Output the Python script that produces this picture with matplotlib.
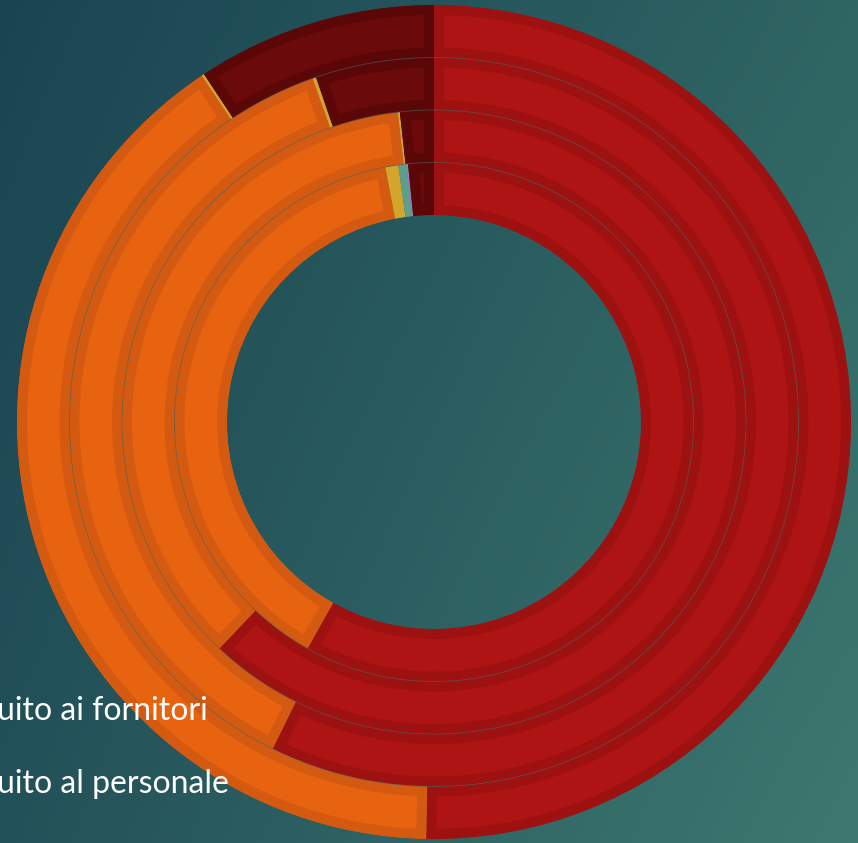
import numpy as np
import matplotlib.pyplot as plt
from matplotlib.colors import to_rgb

# categories (clockwise from 12 o'clock)
categories = ['Valore distribuito ai fornitori', 'Valore distribuito al personale',
              'Valore distribuito alla P.A.', 'Valore distribuito ai finanziatori',
              'Valore distribuito agli azionisti', "Valore trattenuto dall'azienda"]

# shares in percent, one list per ring (inner -> outer)
ring1 = [58.1, 38.9, 0.8, 0.5, 0.1, 1.6]
ring2 = [62.1, 36.1, 0.1, 0.0, 0.0, 1.75]
ring3 = [57.3, 37.3, 0.15, 0.0, 0.0, 5.25]
ring4 = [50.3, 40.3, 0.1, 0.0, 0.0, 9.3]
rings = [ring1, ring2, ring3, ring4]

fill_colors = ['#AE1414', '#E86310', '#D4A52A', '#5E9E8E', '#9C7FB8', '#6A0A0A']
edge_colors = ['#9E1111', '#D35A10', '#D4A52A', '#5E9E8E', '#9C7FB8', '#5C0707']

legend_lines = ['uito ai fornitori', 'uito al personale']

W, H = 858, 843
cx, cy = 434, 422
r_in, r_out = 207, 417
ring_w = (r_out - r_in) / len(rings)

fig = plt.figure(figsize=(W / 100, H / 100), dpi=100)
ax = fig.add_axes([0, 0, 1, 1])

# background gradient (bilinear between corner colours)
tl, tr = np.array(to_rgb('#1A4452')), np.array(to_rgb('#2F6563'))
bl, br = np.array(to_rgb('#235159')), np.array(to_rgb('#3D7970'))
u = np.linspace(0, 1, 200)[None, :, None]
v = np.linspace(0, 1, 200)[:, None, None]
grad = (1 - v) * ((1 - u) * tl + u * tr) + v * ((1 - u) * bl + u * br)
ax.imshow(grad, extent=(-cx, W - cx, -(H - cy), cy), origin='upper',
          aspect='auto', zorder=0)

border_px = 10
for i, vals in enumerate(rings):
    radius = r_in + ring_w * (i + 1)
    wedges, _ = ax.pie(vals, radius=radius, startangle=90, counterclock=False,
                       wedgeprops=dict(width=ring_w))
    for j, w in enumerate(wedges):
        w.set_facecolor(fill_colors[j])
        w.set_edgecolor(edge_colors[j])
        w.set_linewidth(2 * border_px * 72 / 100)
        # keep the thick edge inside the wedge -> inner darker border
        w.set_clip_on(True)
        w.set_clip_path(w)
        w.set_zorder(2)

# faint lines between the rings
theta = np.linspace(0, 2 * np.pi, 400)
for i in range(1, len(rings)):
    r = r_in + ring_w * i
    ax.plot(r * np.cos(theta), r * np.sin(theta), color='#4A6560',
            lw=0.7, alpha=0.55, zorder=3)

ax.set_xlim(-cx, W - cx)
ax.set_ylim(-(H - cy), cy)
ax.set_aspect('equal')
ax.axis('off')

for k, txt in enumerate(legend_lines):
    ax.text(-cx - 3, cy - 711 - k * 73, txt, color='#FFFFFF', fontsize=23,
            family='Lato', weight='normal', ha='left', va='center', zorder=5)

fig.savefig('out.png', dpi=100)
